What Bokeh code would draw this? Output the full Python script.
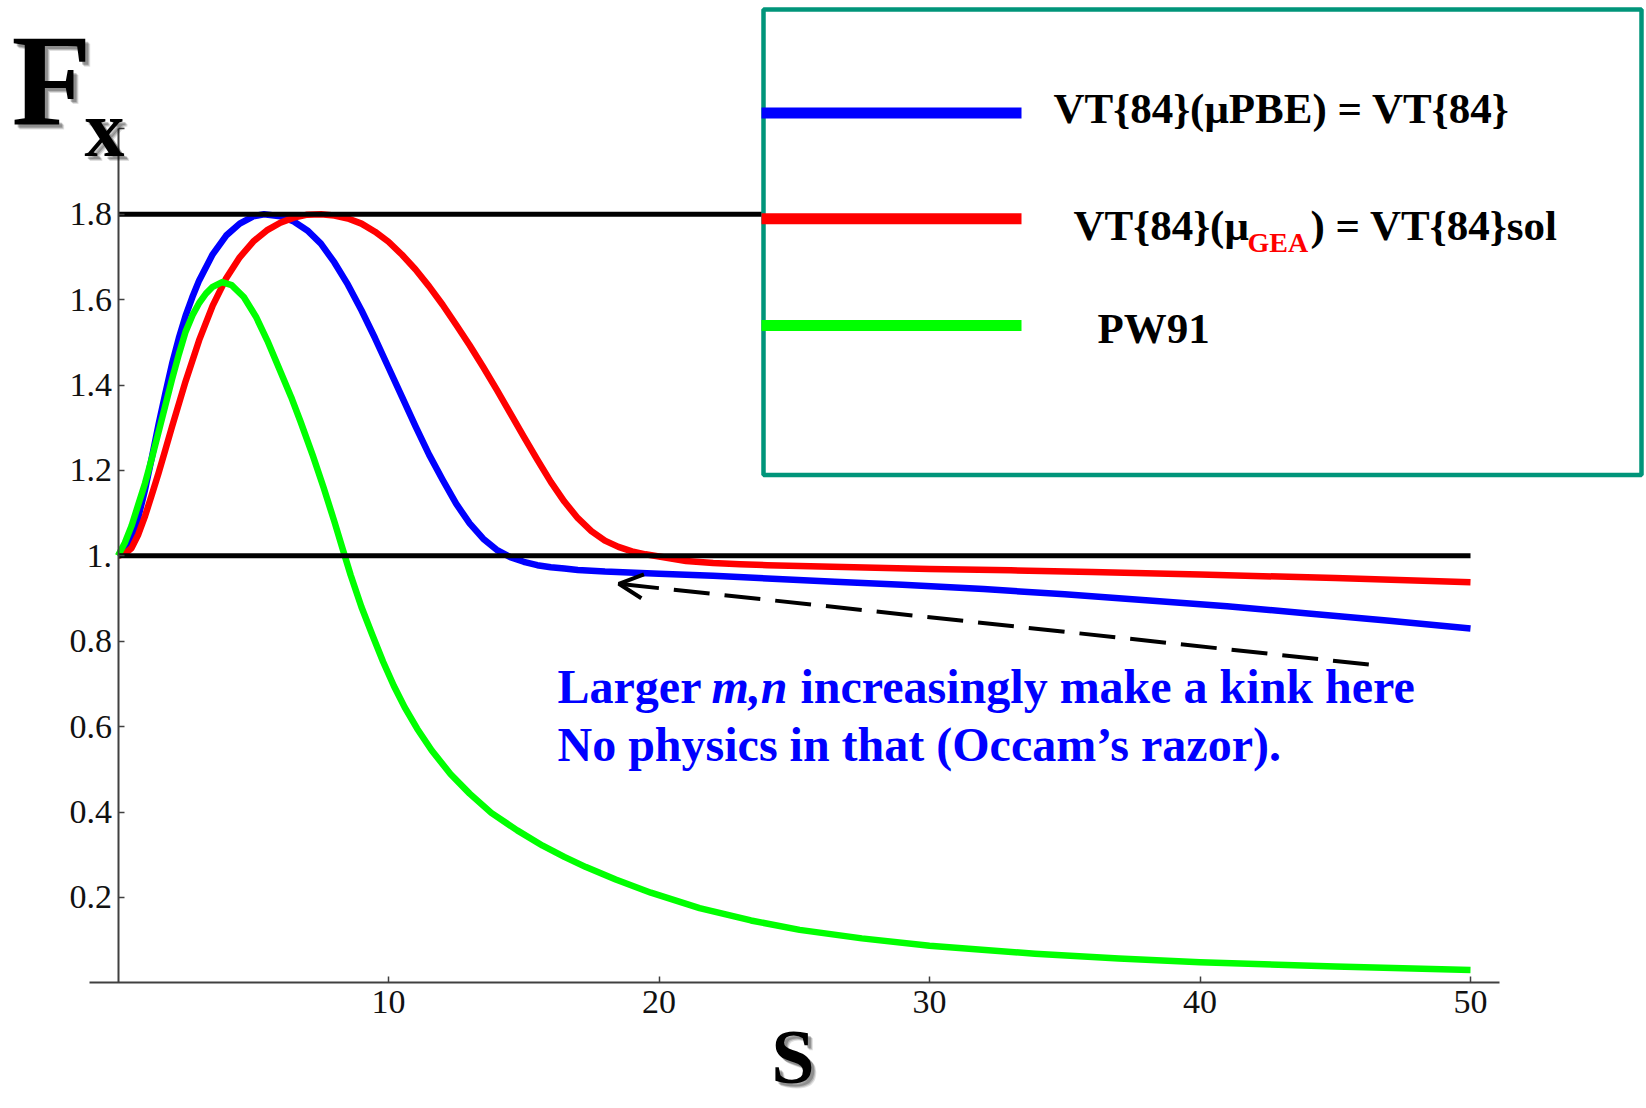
from bokeh.plotting import figure
from bokeh.models import Range1d, FixedTicker, Arrow, OpenHead, Label
from bokeh.embed import file_html
from bokeh.resources import INLINE

# ---------------- data ----------------
s_vt84 = [0.0, 0.25, 0.5, 0.75, 1.0, 1.25, 1.5, 1.75, 2.0, 2.25, 2.5, 2.75, 3.0, 3.5,
          4.0, 4.5, 5.0, 5.4, 6.0, 6.5, 7.0, 7.5, 8.0, 8.5, 9.0, 9.5, 10.0, 10.5,
          11.0, 11.5, 12.0, 12.5, 13.0, 13.5, 14.0, 14.5, 15.0, 15.5, 16.0, 16.5,
          17.0, 18.0, 20.0, 22.0, 24.0, 26.5, 29.0, 32.0, 35.0, 38.0, 41.0, 44.0,
          47.0, 50.0]
fx_vt84 = [1.0, 1.01, 1.04, 1.09, 1.155, 1.23, 1.3075, 1.38, 1.45, 1.51, 1.5625,
           1.606, 1.645, 1.706, 1.750, 1.778, 1.795, 1.800, 1.795, 1.783, 1.762,
           1.731, 1.687, 1.635, 1.575, 1.510, 1.441, 1.372, 1.303, 1.237, 1.178,
           1.122, 1.076, 1.040, 1.014, 0.997, 0.986, 0.978, 0.973, 0.970, 0.967,
           0.963, 0.958, 0.953, 0.947, 0.939, 0.932, 0.922, 0.910, 0.896, 0.882,
           0.865, 0.848, 0.830]

s_vt84sol = [0.0, 0.25, 0.5, 0.75, 1.0, 1.25, 1.5, 1.75, 2.0, 2.5, 3.0, 3.5, 4.0, 4.5,
             5.0, 5.5, 6.0, 6.5, 7.0, 7.5, 8.0, 8.5, 9.0, 9.5, 10.0, 10.5, 11.0,
             11.5, 12.0, 12.5, 13.0, 13.5, 14.0, 14.5, 15.0, 15.5, 16.0, 16.5, 17.0,
             17.5, 18.0, 18.5, 19.0, 19.5, 20.0, 21.0, 22.0, 23.0, 24.0, 26.0, 28.0,
             30.0, 33.0, 36.0, 40.0, 45.0, 50.0]
fx_vt84sol = [1.0, 1.005, 1.018, 1.05, 1.093, 1.143, 1.194, 1.248, 1.303, 1.409,
              1.505, 1.586, 1.650, 1.699, 1.736, 1.762, 1.780, 1.792, 1.799, 1.800,
              1.797, 1.790, 1.778, 1.759, 1.7355, 1.705, 1.6705, 1.631, 1.588,
              1.541, 1.493, 1.442, 1.389, 1.334, 1.279, 1.225, 1.173, 1.127, 1.088,
              1.058, 1.0355, 1.021, 1.0105, 1.0035, 0.9985, 0.988, 0.983, 0.980,
              0.978, 0.975, 0.972, 0.969, 0.966, 0.962, 0.956, 0.948, 0.938]

s_pw91 = [0.0, 0.25, 0.5, 0.75, 1.0, 1.25, 1.5, 1.75, 2.0, 2.25, 2.5, 2.75, 3.0, 3.25,
          3.5, 3.85, 4.2, 4.65, 5.1, 5.52, 6.0, 6.4, 6.75, 7.2, 7.6, 8.0, 8.3, 8.6,
          9.0, 9.4, 9.8, 10.2, 10.6, 11.06, 11.6, 12.29, 13.0, 13.8, 14.76, 15.7,
          16.5, 17.3, 18.4, 19.7, 21.5, 23.4, 25.2, 27.5, 30.0, 33.9, 37.0, 40.0,
          45.0, 50.0]
fx_pw91 = [1.0, 1.03, 1.07, 1.12, 1.17, 1.228, 1.29, 1.352, 1.414, 1.472, 1.525,
           1.563, 1.592, 1.614, 1.630, 1.641, 1.634, 1.606, 1.560, 1.504, 1.432,
           1.372, 1.314, 1.235, 1.160, 1.080, 1.017, 0.955, 0.880, 0.815, 0.752,
           0.695, 0.645, 0.595, 0.544, 0.489, 0.443, 0.398, 0.357, 0.321, 0.295,
           0.271, 0.242, 0.211, 0.175, 0.146, 0.124, 0.104, 0.087, 0.068, 0.057,
           0.048, 0.038, 0.030]

ref_levels = [1.0, 1.8]
ref_start, ref_end = 0.0, 50.0

x_ticks = [10, 20, 30, 40, 50]
y_ticks = [0.2, 0.4, 0.6, 0.8, 1.0, 1.2, 1.4, 1.6, 1.8, 2.0]

series_names = ["VT{84}(\u03bcPBE) = VT{84}", "VT{84}(\u03bc", "GEA", ") = VT{84}sol", "PW91"]

# ---------------- layout helpers (pixel -> data) ----------------
W, H = 1646, 1108
X0_PX, X_SCALE = 117.5, 27.05
Y0_PX, Y_SCALE = 982.3, 427.0
BASE_SHIFT = 0.36   # label baseline correction, fraction of font size


def dx(px):
    return (px - X0_PX) / X_SCALE


def dy(py):
    return (Y0_PX - py) / Y_SCALE


SERIF = "Liberation Serif"

p = figure(width=W, height=H, output_backend="svg", toolbar_location=None, tools="",
           x_range=Range1d(dx(0), dx(W)), y_range=Range1d(dy(H), dy(0)),
           min_border=0)
p.outline_line_color = None
p.background_fill_color = "white"
p.border_fill_color = "white"
p.grid.visible = False

for ax in (p.xaxis[0], p.yaxis[0]):
    ax.fixed_location = 0
    ax.axis_line_color = "#404040"
    ax.axis_line_width = 2
    ax.major_tick_line_color = "#404040"
    ax.major_tick_line_width = 1.5
    ax.major_tick_in = 6
    ax.major_tick_out = 0
    ax.minor_tick_line_color = None
    ax.major_label_text_font = SERIF
    ax.major_label_text_font_size = "34px"
    ax.major_label_text_color = "#111111"

p.xaxis.ticker = FixedTicker(ticks=x_ticks)
p.yaxis.ticker = FixedTicker(ticks=y_ticks)
p.xaxis.bounds = (-1.07, 51.07)
p.yaxis.bounds = (0, 2.0)
p.xaxis.major_label_standoff = 8
p.yaxis.major_label_standoff = 6
p.yaxis.major_label_overrides = {1: "1.", "1": "1.", 2: "", "2": ""}

# curves
p.line(s_vt84, fx_vt84, line_color="#0000FF", line_width=6.5, line_join="round")
p.line(s_vt84sol, fx_vt84sol, line_color="#FF0000", line_width=6.5, line_join="round")
p.line(s_pw91, fx_pw91, line_color="#00FF00", line_width=6.5, line_join="round")

# reference lines
p.segment(x0=[ref_start] * len(ref_levels), y0=ref_levels,
          x1=[ref_end] * len(ref_levels), y1=ref_levels,
          line_color="black", line_width=5)

# legend box
p.quad(left=dx(763), right=dx(1641), bottom=dy(474.5), top=dy(9),
       fill_color="white", line_color="#00957A", line_width=4.5)
for col, ypx in (("#0000FF", 112.5), ("#FF0000", 218.3), ("#00FF00", 325.0)):
    p.segment(x0=[dx(761)], y0=[dy(ypx)], x1=[dx(1021)], y1=[dy(ypx)],
              line_color=col, line_width=11)


def lab(text, xpx, ypx, size, color="black", style="bold", align="left", alpha=1.0,
        xo=0, yo=0):
    yfix = ypx - BASE_SHIFT * size
    p.add_layout(Label(x=dx(xpx), y=dy(yfix), text=text, text_font=SERIF,
                       text_font_size=f"{size}px", text_font_style=style,
                       text_color=color, text_align=align,
                       text_baseline="alphabetic", text_alpha=alpha,
                       x_offset=xo, y_offset=yo))


lab(series_names[0], 1053, 123.5, 43)
lab(series_names[1], 1073, 240.5, 43)
lab(series_names[2], 1247, 252, 28, color="#FF0000")
lab(series_names[3], 1310, 240.5, 43)
lab(series_names[4], 1097, 343.5, 43)

# annotation
BLUE = "#0000FF"
lab("Larger", 557, 703, 48, color=BLUE)
lab("m,n", 711, 703, 48, color=BLUE, style="bold italic")
lab("increasingly make a kink here", 800, 703, 48, color=BLUE)
lab("No physics in that (Occam\u2019s razor).", 557, 761, 48, color=BLUE)

# axis titles with soft shadow
for xo, yo, a in ((5, -5, 0.12), (4, -4, 0.18), (3, -3, 0.22)):
    lab("F", 11, 126.7, 131, color="black", alpha=a, xo=xo, yo=yo)
    lab("x", 84, 157, 80, color="black", alpha=a, xo=xo, yo=yo)
    lab("S", 792.5, 1084, 78, color="black", align="center", alpha=a, xo=xo, yo=yo)
lab("F", 11, 126.7, 131)
lab("x", 84, 157, 80)
lab("S", 792.5, 1084, 78, align="center")

# dashed arrow
p.add_layout(Arrow(end=OpenHead(size=24, line_width=4, line_color="black"),
                   x_start=dx(1368.3), y_start=dy(664), x_end=dx(618.3), y_end=dy(583.3),
                   line_color="black", line_width=4, line_dash="36 15"))

open("out.html", "w").write(file_html(p, INLINE))
